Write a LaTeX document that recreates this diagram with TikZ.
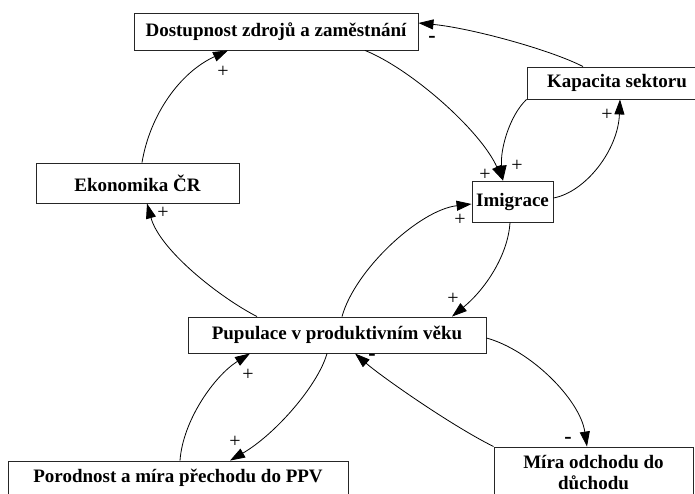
\documentclass[tikz,border=0pt]{standalone}
\usepackage{fontspec}
\setmainfont{Liberation Serif}
\usetikzlibrary{arrows.meta}
\begin{document}
\begin{tikzpicture}[x=1pt,y=-1pt,
  box/.style={draw=black!85, line width=0.9pt, fill=white, inner sep=0pt, align=center,
    font=\fontsize{19}{21}\selectfont\bfseries},
  link/.style={line width=0.8pt, -{Triangle[length=15pt,width=10pt]}},
  sign/.style={inner sep=0pt, font=\fontsize{20}{20}\selectfont},
  neg/.style={inner sep=0pt, font=\fontsize{22}{22}\selectfont\bfseries}]
\useasboundingbox (0,0) rectangle (695,493);
\clip (0,0) rectangle (695,493);

% variables
\node[box, minimum width=284pt, minimum height=37pt] (dost) at (276,31.5) {Dostupnost zdrojů a zaměstnání};
\node[box, minimum width=180pt, minimum height=32pt] (kap) at (617,83) {Kapacita sektoru};
\node[box, minimum width=81pt, minimum height=41pt] (imig) at (512.5,201.5) {Imigrace};
\node[box, minimum width=203pt, minimum height=40pt] (eko) at (137.5,183) {Ekonomika ČR};
\node[box, minimum width=298pt, minimum height=36pt] (pup) at (337,335) {Pupulace v produktivním věku};
\node[box, minimum width=340pt, minimum height=33pt] (poro) at (178,477.5) {Porodnost a míra přechodu do PPV};
\node[box, minimum width=199pt, minimum height=51pt] (mira) at (593.5,472.5) {Míra odchodu do\\důchodu};

% causal links
\draw[link] ([xshift=4.5pt]eko.north) .. controls +(8,-48) and +(-48,22) .. ([xshift=-48pt]dost.south);
\draw[link] ([xshift=89pt]dost.south) .. controls +(45,18) and +(-23,-51) .. ([xshift=-9.5pt]imig.north);
\draw[link] ([xshift=-34pt]kap.north) .. controls +(-33,-17) and +(52,5) .. ([yshift=8.5pt]dost.east);
\draw[link] (kap.south west) .. controls +(-17,16) and +(-3,-31) .. ([xshift=-9.5pt]imig.north);
\draw[link] ([yshift=3.5pt]imig.east) .. controls +(32,-6) and +(-2,51) .. ([xshift=3pt]kap.south);
\draw[link] ([xshift=-80pt]pup.north) .. controls +(-37,-19) and +(13,47) .. ([xshift=9.5pt]eko.south);
\draw[link] ([xshift=5pt]pup.north) .. controls +(13,-47) and +(-52,6) .. ([yshift=-2.5pt]imig.west);
\draw[link] ([xshift=-2.5pt]imig.south) .. controls +(-2,33) and +(33,-27) .. ([xshift=115pt]pup.north);
\draw[link] ([xshift=-10pt]pup.south) .. controls +(-9,32) and +(45,-26) .. ([xshift=52pt]poro.north);
\draw[link] ([xshift=2pt]poro.north) .. controls +(3,-41) and +(-35,22) .. ([xshift=-87pt]pup.south);
\draw[link] ([yshift=-3pt]pup.east) .. controls +(44,12) and +(-7,-47) .. ([xshift=-6.5pt]mira.north);
\draw[link] (mira.north west) .. controls +(-44,-22) and +(25,22) .. ([xshift=18pt]pup.south);

% link polarities
\node[sign] (s1) at (223,72) {+};
\node[sign] (s2) at (485,175) {+};
\node[sign] (s3) at (517,166) {+};
\node[neg] (s4) at (432,39) {-};
\node[sign] (s5) at (607,115) {+};
\node[sign] (s6) at (163,213) {+};
\node[sign] (s7) at (460,220) {+};
\node[sign] (s8) at (453,299) {+};
\node[sign] (s9) at (235,442) {+};
\node[sign] (s10) at (248,375) {+};
\node[neg] (s11) at (568,440) {-};
\node[neg] (s12) at (372,357) {-};
\end{tikzpicture}
\end{document}
